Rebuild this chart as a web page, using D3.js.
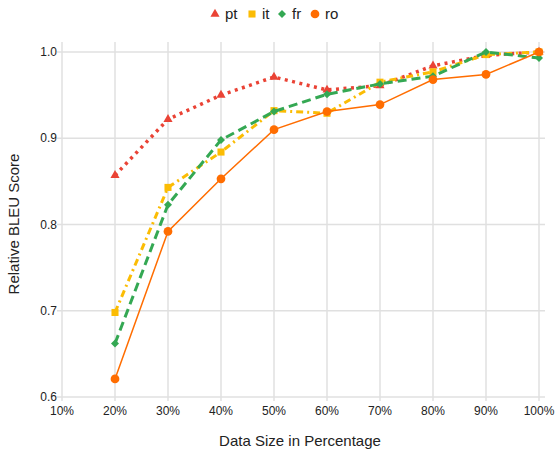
<!DOCTYPE html>
<html><head><meta charset="utf-8">
<script src="https://cdn.jsdelivr.net/npm/d3@7"></script>
<style>body{margin:0;background:#fff}svg{display:block}text{font-family:"Liberation Sans",Arial,sans-serif}</style>
</head><body>
<svg id="c" width="556" height="454"></svg>
<script>
const categories = [10,20,30,40,50,60,70,80,90,100];
const xTickLabels = ["10%","20%","30%","40%","50%","60%","70%","80%","90%","100%"];
const yTicks = [0.6,0.7,0.8,0.9,1.0];
const seriesNames = ["pt","it","fr","ro"];
const pctPoints = [20,30,40,50,60,70,80,90,100];
const ptValues = [0.857,0.922,0.950,0.971,0.956,0.961,0.984,0.996,1.000];
const itValues = [0.698,0.843,0.884,0.932,0.929,0.965,0.977,0.997,1.000];
const frValues = [0.662,0.823,0.898,0.931,0.951,0.963,0.972,1.000,0.993];
const roValues = [0.621,0.792,0.853,0.910,0.931,0.939,0.968,0.974,1.000];

const colors = {pt:"#ea4335", it:"#fbbc04", fr:"#34a853", ro:"#ff6d01"};
const svg = d3.select("#c");
const L=62, R=539, T=52, B=397;
const x = d3.scaleLinear().domain([10,100]).range([L,R]);
const y = d3.scaleLinear().domain([0.6,1.0]).range([B,T]);

// grid
svg.append("g").selectAll("line").data(yTicks).join("line")
  .attr("x1",L-5).attr("x2",R+6).attr("y1",d=>y(d)).attr("y2",d=>y(d))
  .attr("stroke","#e0e0e0").attr("stroke-width",1.5);
svg.append("g").selectAll("line").data(categories).join("line")
  .attr("x1",d=>x(d)).attr("x2",d=>x(d)).attr("y1",T-10).attr("y2",B+4)
  .attr("stroke","#e0e0e0").attr("stroke-width",1.5);

// axes labels
svg.append("g").selectAll("text").data(yTicks).join("text")
  .attr("x",L-5).attr("y",d=>y(d)+4).attr("text-anchor","end")
  .attr("font-size",12).attr("fill","#222").text(d=>d.toFixed(1));
svg.append("g").selectAll("text").data(categories).join("text")
  .attr("x",d=>x(d)).attr("y",B+18).attr("text-anchor","middle")
  .attr("font-size",12).attr("fill","#222").text((d,i)=>xTickLabels[i]);

svg.append("text").attr("x",300).attr("y",446).attr("text-anchor","middle")
  .attr("font-size",15).attr("fill","#222").text("Data Size in Percentage");
svg.append("text").attr("transform","translate(19,224) rotate(-90)").attr("text-anchor","middle")
  .attr("font-size",15).attr("fill","#222").text("Relative BLEU Score");

const data = {pt:ptValues, it:itValues, fr:frValues, ro:roValues};
const styles = {
  pt:{w:3.5, dash:"3,4.5", sym:d3.symbolTriangle, size:36, rot:0},
  it:{w:3, dash:"7,4,2,4", sym:d3.symbolSquare, size:50, rot:0},
  fr:{w:3, dash:"9,5", sym:d3.symbolSquare, size:32, rot:45},
  ro:{w:1.5, dash:null, sym:d3.symbolCircle, size:60, rot:0}
};
const line = d3.line().x(d=>x(d[0])).y(d=>y(d[1]));
seriesNames.forEach(s=>{
  const pts = pctPoints.map((p,i)=>[p,data[s][i]]);
  const st = styles[s];
  const p = svg.append("path").datum(pts).attr("d",line).attr("fill","none")
    .attr("stroke",colors[s]).attr("stroke-width",st.w);
  if(st.dash) p.attr("stroke-dasharray",st.dash);
  svg.append("g").selectAll("path").data(pts).join("path")
    .attr("transform",d=>`translate(${x(d[0])},${y(d[1])}) rotate(${st.rot})`)
    .attr("d",d3.symbol().type(st.sym).size(st.size)).attr("fill",colors[s]);
});

// legend
const legX = [215,252,282,315];
const legend = svg.append("g");
seriesNames.forEach((s,i)=>{
  legend.append("path").attr("transform",`translate(${legX[i]},14) rotate(${styles[s].rot})`)
    .attr("d",d3.symbol().type(styles[s].sym).size(styles[s].size)).attr("fill",colors[s]);
  legend.append("text").attr("x",legX[i]+10).attr("y",19).attr("font-size",15)
    .attr("fill","#222").text(s);
});
</script>
</body></html>
